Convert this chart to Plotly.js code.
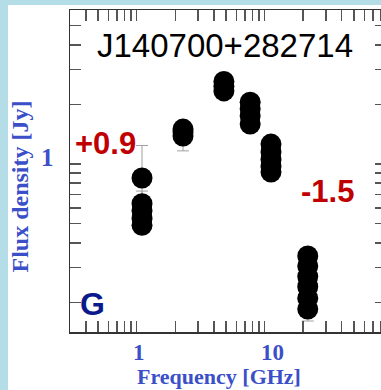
<!DOCTYPE html>
<html>
<head>
<meta charset="utf-8">
<script src="https://cdn.plot.ly/plotly-3.0.1.min.js"></script>
<style>
  html, body { margin: 0; padding: 0; width: 381px; height: 390px; overflow: hidden; background: #b4dde8; }
  #chart { position: absolute; left: 8px; top: 5px; width: 382px; height: 385px; }
</style>
</head>
<body>
<div id="chart"></div>
<script>
// Frequencies in GHz (one per measurement)
const freq1 = [1.1, 1.1, 1.1, 1.1, 1.1];
const flux1 = [0.85, 0.63, 0.58, 0.53, 0.49];
const err1  = [0.39, 0.10, 0.03, 0.03, 0.03];

const freq2 = [2.3, 2.3, 2.3];
const flux2 = [1.50, 1.45, 1.385];
const err2  = [0.04, 0.04, 0.22];

const freq3 = [4.8, 4.8, 4.8];
const flux3 = [2.61, 2.47, 2.34];
const err3  = [0.05, 0.05, 0.05];

const freq4 = [7.7, 7.7, 7.7, 7.7];
const flux4 = [2.05, 1.90, 1.75, 1.59];
const err4  = [0.05, 0.05, 0.05, 0.05];

const freq5 = [11.2, 11.2, 11.2, 11.2, 11.2];
const flux5 = [1.26, 1.15, 1.05, 0.97, 0.91];
const err5  = [0.03, 0.03, 0.03, 0.03, 0.03];

const freq6 = [21.7, 21.7, 21.7, 21.7, 21.7, 21.7];
const flux6 = [0.343, 0.305, 0.27, 0.24, 0.21, 0.185];
const err6  = [0.01, 0.01, 0.01, 0.01, 0.01, 0.024];

const xTickVals = [0.4,0.5,0.6,0.7,0.8,0.9,1,2,3,4,5,6,7,8,9,10,20,30,40,50,60,70,80];
const xTickText = ['','','','','','','1','','','','','','','','','\u00a0\u00a010','','','','','','',''];
const yTickVals = [0.2,0.3,0.4,0.5,0.6,0.7,0.8,0.9,1,2,3,4,5];
const yTickText = ['','','','','','','','','1','','','',''];

const sourceName = 'J140700+282714';
const alphaLow = '+0.9';
const alphaHigh = '-1.5';
const classLabel = 'G';

const xs = [freq1, freq2, freq3, freq4, freq5, freq6].flat();
const ys = [flux1, flux2, flux3, flux4, flux5, flux6].flat();
const es = [err1, err2, err3, err4, err5, err6].flat();

const blue = '#3b4fc9';
const serif = '"Liberation Serif", "DejaVu Serif", serif';
const sans = '"Liberation Sans", Arial, sans-serif';

const trace = {
  x: xs, y: ys, type: 'scatter', mode: 'markers',
  marker: { color: '#000', size: 21, line: { width: 0 } },
  error_y: { type: 'data', array: es, visible: true, color: '#a0a0a0', thickness: 1, width: 6 },
  hoverinfo: 'x+y'
};

const axisCommon = {
  type: 'log', showgrid: false, zeroline: false,
  showline: true, linecolor: '#333', linewidth: 1.5, mirror: 'ticks',
  ticks: 'inside', ticklen: 11, tickwidth: 1.5, tickcolor: '#555',
  tickmode: 'array'
};

function ann(text, x, y, size, color, family, extra) {
  return Object.assign({ text: text, xref: 'paper', yref: 'paper', x: x, y: y,
    xanchor: 'center', yanchor: 'middle', showarrow: false,
    font: { family: family, size: size, color: color } }, extra || {});
}

const layout = {
  width: 382, height: 385,
  margin: { l: 62, r: 4, t: 5, b: 58 },
  paper_bgcolor: '#fff', plot_bgcolor: '#fff',
  showlegend: false,
  xaxis: Object.assign({}, axisCommon, {
    range: [Math.log10(0.301), Math.log10(88.7)],
    tickvals: xTickVals, ticktext: xTickText,
    ticklabelshift: 2, ticklabelstandoff: -1,
    tickfont: { family: serif, size: 23, color: blue, weight: 'bold' }
  }),
  yaxis: Object.assign({}, axisCommon, {
    range: [Math.log10(0.1417), Math.log10(5.995)],
    tickvals: yTickVals, ticktext: yTickText,
    ticklabelstandoff: 10, ticklabelshift: -7,
    tickfont: { family: serif, size: 25, color: blue, weight: 'bold' }
  }),
  annotations: [
    ann(sourceName, 0.492, 0.891, 33, '#000', sans),
    ann('<b>' + alphaLow + '</b>', 0.111, 0.584, 31, '#c00000', sans),
    ann('<b>' + alphaHigh + '</b>', 0.816, 0.435, 31, '#c00000', sans),
    ann('<b>' + classLabel + '</b>', 0.07, 0.087, 32, '#0a1a8c', sans),
    ann('<b>Frequency [GHz]</b>', 0.472, -0.137, 22, blue, serif),
    ann('<b>Flux density [Jy]</b>', -0.158, 0.452, 24, blue, serif, { textangle: -90 })
  ]
};

Plotly.newPlot('chart', [trace], layout, { displayModeBar: false, staticPlot: true });
</script>
</body>
</html>
